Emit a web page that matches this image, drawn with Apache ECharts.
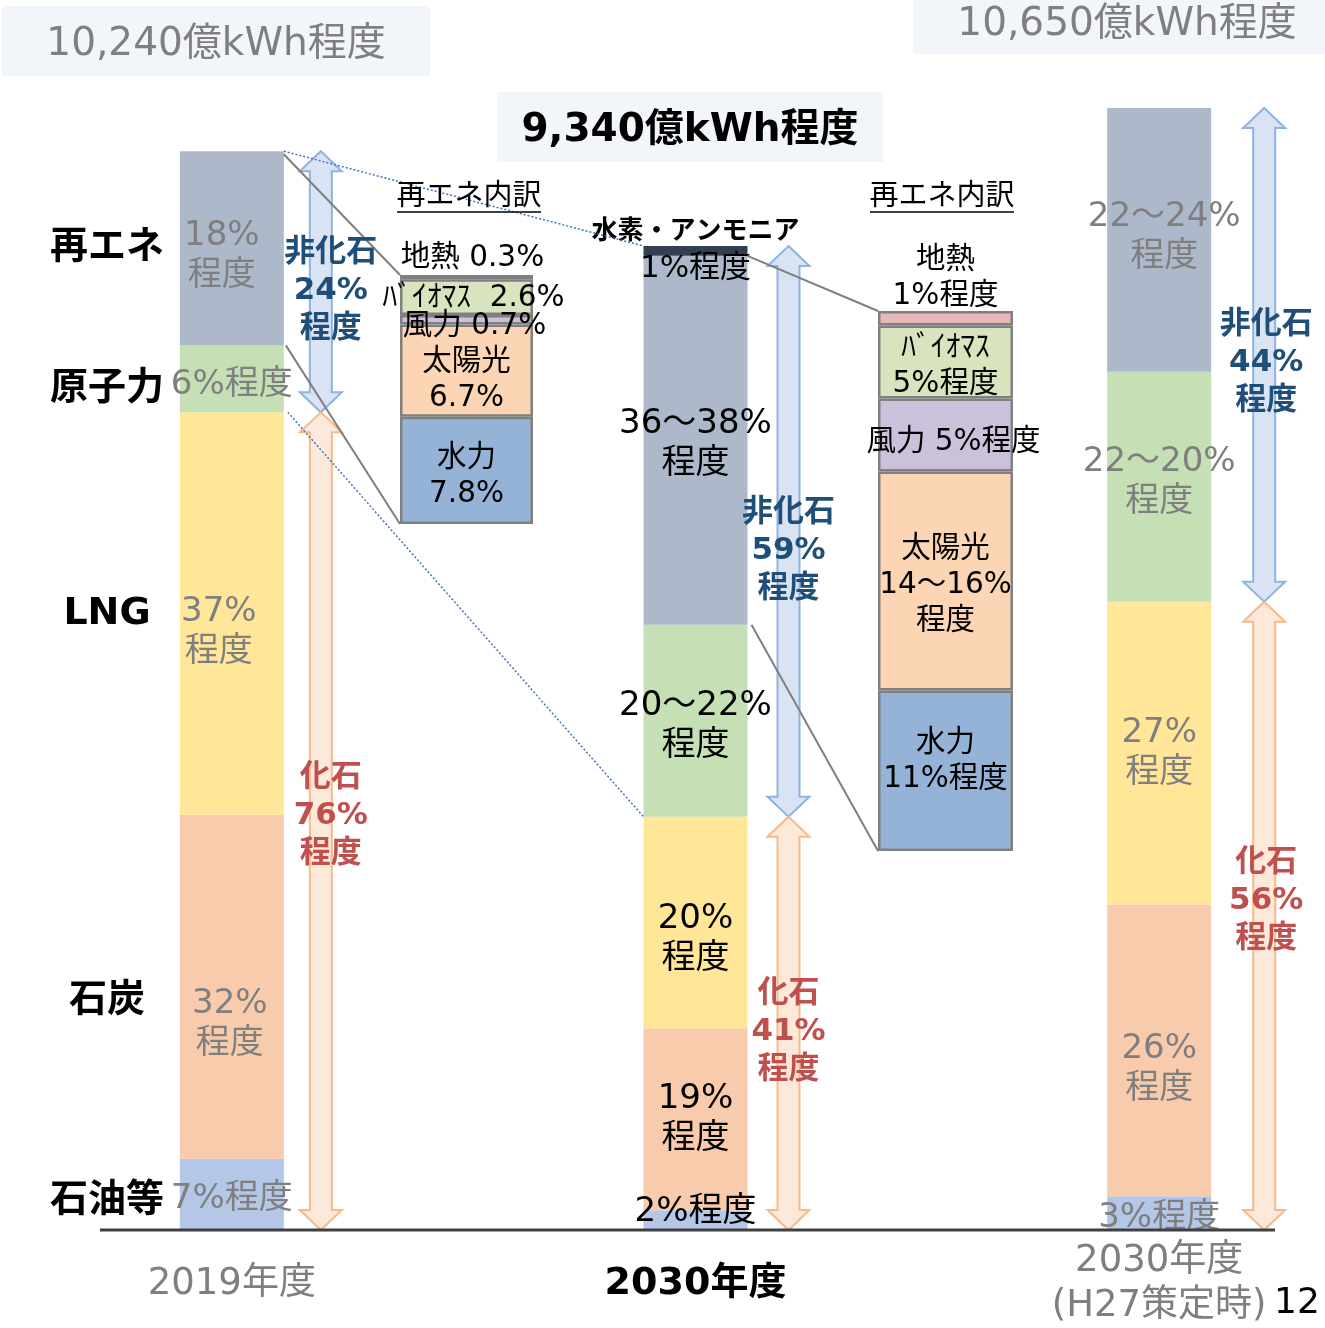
<!DOCTYPE html>
<html>
<head>
<meta charset="utf-8">
<script src="https://cdn.jsdelivr.net/npm/echarts@6/dist/echarts.min.js"></script>
<style>
html, body { margin: 0; padding: 0; background: #fff; }
#main { width: 1325px; height: 1328px; }
</style>
</head>
<body>
<div id="main"></div>
<script>
// 電源構成 (億kWh, 構成比%)
const years = ['2019年度', '2030年度', '2030年度\n(H27策定時)'];
const totals = [10240, 9340, 10650];
const sources = ['石油等', '石炭', 'LNG', '原子力', '再エネ', '水素・アンモニア']; // 下から
const share2019 = [6.6, 31.9, 37.3, 6.2, 18, 0];
const share2030 = [2, 18.5, 21.5, 19.5, 37.5, 1];
const shareH27 = [3, 26, 27, 20.5, 23.5, 0];
const text2019 = ['7%程度', '32%\n程度', '37%\n程度', '6%程度', '18%\n程度', ''];
const text2030 = ['2%程度', '19%\n程度', '20%\n程度', '20～22%\n程度', '36～38%\n程度', '1%程度'];
const textH27 = ['3%程度', '26%\n程度', '27%\n程度', '22～20%\n程度', '22～24%\n程度', ''];
const nonFossilText = ['非化石\n24%\n程度', '非化石\n59%\n程度', '非化石\n44%\n程度'];
const fossilText = ['化石\n76%\n程度', '化石\n41%\n程度', '化石\n56%\n程度'];
const fossilCount = 3; // 石油等・石炭・LNG

// 再エネ内訳 (下から)
const reNames = ['水力', '太陽光', '風力', 'バイオマス', '地熱'];
const re2019 = [7.8, 6.7, 0.7, 2.6, 0.3];
const re2030 = [11, 15, 5, 5, 1];
const re2019Text = ['水力\n7.8%', '太陽光\n6.7%', '風力 0.7%', 'ﾊﾞｲｵﾏｽ  2.6%', '地熱 0.3%'];
const re2030Text = ['水力\n11%程度', '太陽光\n14～16%\n程度', '風力 5%程度', 'ﾊﾞｲｵﾏｽ\n5%程度', '地熱\n1%程度'];

const FONT = '"DejaVu Sans", "Noto Sans CJK JP", sans-serif';
const GRAY = '#7f7f7f';
const srcColors = ['#b4c7e7', '#f8cbad', '#ffe699', '#c5e0b4', '#adb9ca', '#333f50'];
const reColors = ['#95b3d7', '#fcd5b5', '#ccc1da', '#d7e4bd', '#e6b9b8'];
const BAR_W = 104;
// ラベル位置の微調整 [年度][電源]
const labelShift = [
    [[0, 5], [-2, 37], [-13, 19], [0, 6], [-10, 8], [0, 0]],
    [[0, -8], [0, 0], [0, 17], [0, 5], [0, 4], [0, 0]],
    [[0, 5], [0, 19], [0, 0], [0, -5], [5, -3], [0, 0]]
];
const reShift1 = [[0, 6], [0, 10], [8, 7], [7, 1], [6, 4]];
const reShift2 = [[0, -9], [0, 4], [8, 7], [0, 4], [0, 6]];
const nameShift = [7, 14, 1, 10, 0];

var chart = echarts.init(document.getElementById('main'));

const shares = [share2019, share2030, shareH27];
const texts = [text2019, text2030, textH27];
const sum = a => a.reduce((s, v) => s + v, 0);

let mainSeries = sources.map(function (name, s) {
    let isH2 = s === 5;
    return {
        type: 'bar', name: name, stack: 'main', xAxisIndex: 0, yAxisIndex: 0,
        barWidth: BAR_W, clip: false,
        itemStyle: { color: srcColors[s] },
        label: {
            show: true, position: 'inside', fontFamily: FONT, fontSize: 34, lineHeight: 40,
            textBorderWidth: 0,
            formatter: isH2
                ? p => '{h|' + name + '}\n{v|' + texts[p.dataIndex][s] + '}'
                : p => texts[p.dataIndex][s],
            rich: isH2 ? {
                h: { fontFamily: FONT, fontSize: 26, fontWeight: 'bold', color: '#000', lineHeight: 37 },
                v: { fontFamily: FONT, fontSize: 31, color: '#000', lineHeight: 37 }
            } : undefined
        },
        data: shares.map(function (sh, c) {
            return {
                value: sh[s] * totals[c] / 100,
                label: {
                    show: texts[c][s] !== '',
                    color: c === 1 ? '#000' : GRAY,
                    offset: labelShift[c][s]
                }
            };
        })
    };
});

function reSeries(vals, txt, g, shift) {
    return reNames.map(function (name, k) {
        return {
            type: 'bar', name: name, stack: 're' + g, xAxisIndex: g, yAxisIndex: g,
            barWidth: '100%', clip: false,
            itemStyle: { color: reColors[k], borderColor: '#808080', borderWidth: 2.5 },
            label: {
                show: true, position: k === 4 ? 'top' : 'inside', distance: 3,
                fontFamily: FONT, fontSize: 29.5, lineHeight: 36, color: '#000', textBorderWidth: 0,
                offset: shift[k],
                formatter: txt[k]
            },
            data: [vals[k]]
        };
    });
}

let option = {
    animation: false,
    backgroundColor: '#fff',
    grid: [
        { left: 0, top: 108, width: 1391, height: 1122, outerBoundsMode: 'none', containLabel: false },
        { left: 400, top: 275, width: 133, height: 249, outerBoundsMode: 'none', containLabel: false },
        { left: 878, top: 311, width: 135, height: 540, outerBoundsMode: 'none', containLabel: false }
    ],
    xAxis: [
        {
            gridIndex: 0, type: 'category', data: years,
            axisLine: { show: false }, axisTick: { show: false },
            axisLabel: {
                margin: 54, verticalAlign: 'middle', fontFamily: FONT, fontSize: 38, lineHeight: 45, color: GRAY,
                formatter: (v, i) => i === 1 ? '{b|' + v + '}' : v.split('\n').map(t => '{g|' + t + '}').join('\n'),
                rich: {
                    b: { fontFamily: FONT, fontSize: 38, fontWeight: 'bold', color: '#000' },
                    g: { fontFamily: FONT, fontSize: 37, color: GRAY, lineHeight: 45 }
                }
            }
        },
        { gridIndex: 1, type: 'category', data: ['2019'], show: false },
        { gridIndex: 2, type: 'category', data: ['2030'], show: false }
    ],
    yAxis: [
        { gridIndex: 0, type: 'value', min: 0, max: Math.max(...totals), show: false, splitLine: { show: false } },
        { gridIndex: 1, type: 'value', min: 0, max: sum(re2019), show: false, splitLine: { show: false } },
        { gridIndex: 2, type: 'value', min: 0, max: sum(re2030), show: false, splitLine: { show: false } }
    ],
    series: mainSeries.concat(reSeries(re2019, re2019Text, 1, reShift1), reSeries(re2030, re2030Text, 2, reShift2))
};

chart.setOption(option);

// 注記(矢印・接続線・見出し)を軸のスケールから配置
const toPx = (g, c, v) => chart.convertToPixel({ gridIndex: g }, [c, v]);
const cum = shares.map((sh, c) => {
    let acc = [0];
    sh.forEach(v => acc.push(acc[acc.length - 1] + v * totals[c] / 100));
    return acc;
});

let els = [];

function arrow(cx, y1, y2, fill, stroke) {
    const hw = 21, sw = 11, hl = 20;
    return {
        type: 'polygon', z: 10,
        shape: { points: [[cx, y1], [cx + hw, y1 + hl], [cx + sw, y1 + hl], [cx + sw, y2 - hl], [cx + hw, y2 - hl],
            [cx, y2], [cx - hw, y2 - hl], [cx - sw, y2 - hl], [cx - sw, y1 + hl], [cx - hw, y1 + hl]] },
        style: { fill: fill, stroke: stroke, lineWidth: 2 }
    };
}
function text(x, y, str, size, color, bold, lh, z) {
    return {
        type: 'text', x: x, y: y, z: z || 30,
        style: {
            text: str, fontFamily: FONT, fontSize: size, fontWeight: bold ? 'bold' : 'normal',
            fill: color, align: 'center', verticalAlign: 'middle', textAlign: 'center',
            textVerticalAlign: 'middle', lineHeight: lh || size * 1.2
        }
    };
}
function line(p1, p2, color, w, dash, z) {
    return {
        type: 'line', z: z || 20,
        shape: { x1: p1[0], y1: p1[1], x2: p2[0], y2: p2[1] },
        style: { stroke: color, lineWidth: w, lineDash: dash || null }
    };
}

// 矢印
const arrowOff = [89, 93, 105];
const nfLabelDy = [9, 20, 8];
const fLabelDy = [-5, 9, -15];
const labelDx = [10, 0, 2];
years.forEach(function (y, c) {
    let cx = toPx(0, c, 0)[0] + arrowOff[c];
    let yBase = toPx(0, c, 0)[1];
    let yFos = toPx(0, c, cum[c][fossilCount])[1];
    let yTop = toPx(0, c, totals[c])[1];
    els.push(arrow(cx, yTop, yFos, '#dae3f3', '#8db3e2'));
    els.push(arrow(cx, yFos, yBase, '#fde9d9', '#f8b98a'));
    els.push(text(cx + labelDx[c], (yTop + yFos) / 2 + nfLabelDy[c], nonFossilText[c], 31, '#1f4e79', true, 38));
    els.push(text(cx + labelDx[c], (yFos + yBase) / 2 + fLabelDy[c], fossilText[c], 31, '#c0504d', true, 38));
});

// 2019年度の電源名
sources.slice(0, 5).forEach(function (name, s) {
    let y = toPx(0, 0, cum[0][s] + share2019[s] * totals[0] / 200)[1];
    els.push(text(107, y + nameShift[s], name, 38, '#000', true));
});

// 接続線
const half = BAR_W / 2;
const x19 = toPx(0, 0, 0)[0], x30 = toPx(0, 1, 0)[0];
const reIdx = 4;
const bd1Top = toPx(1, 0, sum(re2019)), bd1Bot = toPx(1, 0, 0);
const bd2Top = toPx(2, 0, sum(re2030)), bd2Bot = toPx(2, 0, 0);
els.push(line([x19 + half, toPx(0, 0, cum[0][reIdx + 1])[1] + 3], [bd1Top[0] - 66.5, bd1Top[1]], '#7f7f7f', 2));
els.push(line([x19 + half + 2, toPx(0, 0, cum[0][reIdx])[1]], [bd1Bot[0] - 66.5, bd1Bot[1]], '#7f7f7f', 2));
els.push(line([x30 + half, toPx(0, 1, cum[1][reIdx + 1])[1]], [bd2Top[0] - 67.5, bd2Top[1]], '#7f7f7f', 2));
els.push(line([x30 + half + 4, toPx(0, 1, cum[1][reIdx])[1]], [bd2Bot[0] - 67.5, bd2Bot[1]], '#7f7f7f', 2));
els.push(line([x19 + half, toPx(0, 0, totals[0])[1]], [x30 - half, toPx(0, 1, totals[1])[1]], '#4472c4', 1.5, [2, 2]));
els.push(line([x19 + half + 4, toPx(0, 0, cum[0][fossilCount])[1]], [x30 - half, toPx(0, 1, cum[1][fossilCount])[1]], '#4472c4', 1.5, [2, 2]));

// 再エネ内訳 見出し
[[469, 197], [942, 197]].forEach(function (p) {
    els.push(text(p[0], p[1], '再エネ内訳', 29, '#000', false));
    els.push(line([p[0] - 72, p[1] + 15], [p[0] + 72, p[1] + 15], '#000', 1.5, null, 30));
});

// 総発電量
const fmt = v => v.toLocaleString('en-US') + '億kWh程度';
els.push({ type: 'rect', z: 1, shape: { x: 2, y: 6, width: 428, height: 70 }, style: { fill: '#f2f5fa' } });
els.push(text(216, 45, fmt(totals[0]), 39, GRAY, false));
els.push({ type: 'rect', z: 1, shape: { x: 497, y: 92, width: 386, height: 70 }, style: { fill: '#f2f5fa' } });
els.push(text(690, 131, fmt(totals[1]), 39, '#000', true));
els.push({ type: 'rect', z: 1, shape: { x: 913, y: 0, width: 412, height: 54 }, style: { fill: '#f2f5fa' } });
els.push(text(1127, 25, fmt(totals[2]), 39, GRAY, false));

// 横軸線とページ番号
const yAxisLine = toPx(0, 0, 0)[1];
els.push(line([100, yAxisLine], [1275, yAxisLine], '#404040', 3));
els.push(text(1297, 1304, '12', 36, '#000', false));

chart.setOption({ graphic: { elements: els } });
</script>
</body>
</html>
